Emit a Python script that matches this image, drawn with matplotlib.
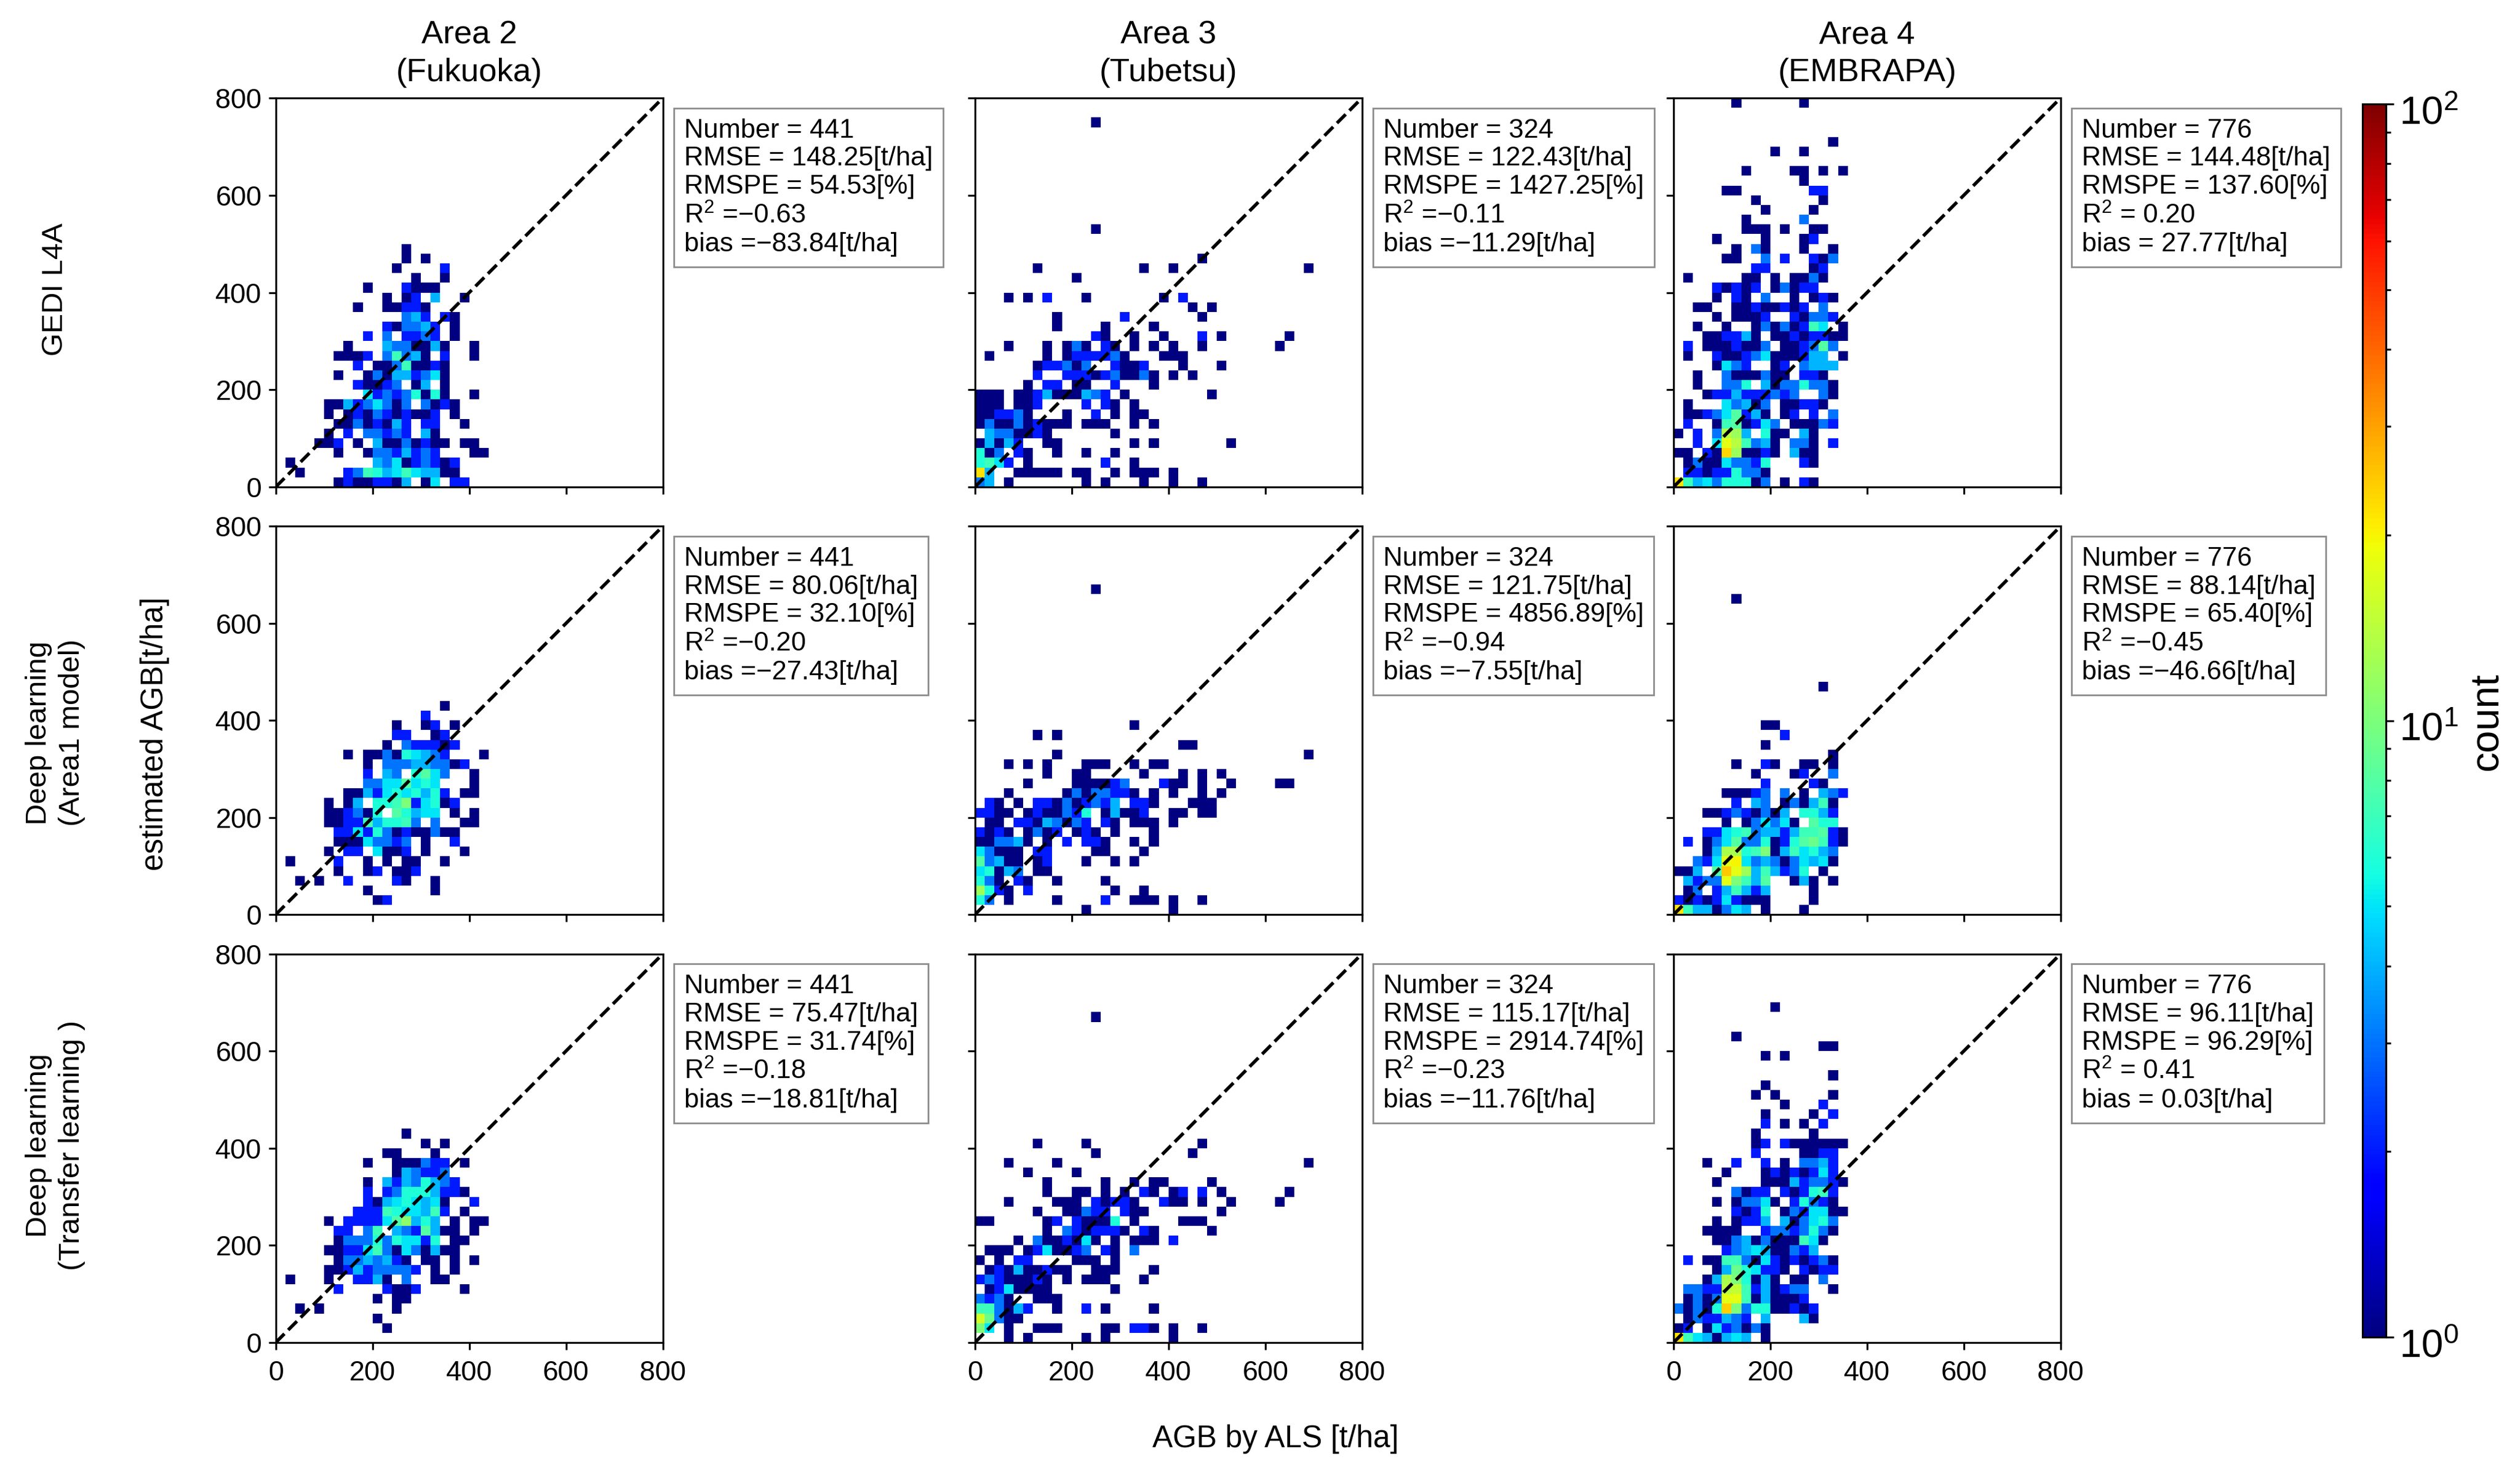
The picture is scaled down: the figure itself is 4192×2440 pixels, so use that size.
import numpy as np
from matplotlib import pyplot as plt
from matplotlib.colors import LogNorm
from matplotlib.transforms import ScaledTranslation

plt.rcParams['font.family'] = ['Liberation Sans', 'DejaVu Sans']
plt.rcParams['mathtext.default'] = 'regular'

# counts per 20 t/ha bin, one string per row from y = 0 upwards,
# one base-36 character per column ('.' = empty)
gedi_fukuoka = [
    "......12112214.15.22", "..1....237645754411", ".1........435123212",
    "......1..13324232...11", "....112.1.41131211.11", ".....1.2.33232.41",
    "......11312142.22..1", ".....1.1213212112.1", ".....114235313.3121",
    ".........523236161..1", "........21123.14.1", "......1..131442351",
    "........2.11371121", "......1112.37341.2..1", ".......1...4331141..1",
    ".........2.3.2232.1", "...........213342.1", ".............342.21",
    "........1..11221", "...........1.12.4..1", ".........1...2111",
    "..............1..1", "............1....2", ".............1.1",
    ".............1",
]
gedi_tubetsu = [
    "34.1.......1.1...1..1..1", "m4..11111.11..1.111.1", "6752.1.......2..1",
    "613.21..1..1..1", "14142..11.......1.1.......1", ".4331121......1",
    "1311312111.111..1.1", "112231...1..2.1.11", "111.112....2.21.1",
    "111.1124111432.1........1", ".....1.22.11..2...1", "......2..2221231131.1.1",
    "......122313..2112...1...1", ".1.....1.1222231...111",
    "...1...1.131.21.1.1.1..1.......1", "............21..1..1...2.1......1",
    "........1....1....1", "........1......2.......1",
    "......................1.1", "...1.1.2...1.......1.2", "",
    "..........1", "......1..........1..1.............1",
    ".......................1", "", "", "............1",
] + [""] * 10 + ["............1"]
gedi_embrapa = [
    "m745366613.1.21", ".221226331", ".131153326...21", "11.21nc1121.411",
    "..2.5ie7341.331.2", "1.2.3ec4.611.41", ".2..1781253.11132",
    ".112358241.12.2.3", ".1...53413.11221", "...1224222323..31",
    "..1..336.41336331", "..1..3111311.221", "....1532..12.3444",
    ".1..211235111244.1", ".2.1112113.112383", "...112241.11212211",
    "..1..1..13131275.1", "....1.1112..21332", "..11..11211212.3",
    "....1.21.3..1.121", "....21212.13122", ".1.....11.1.1131",
    "........22....12", ".....11..3.2..213", "......1.31...1..1",
    "....1....1...12", ".......111.1..11", ".......1.....3",
    ".........1....1", "........1......1", ".....11.......22",
    ".............1", ".......1....11.1.1", "", "..........1..1",
    "................1", "", "", "", "......1......1",
]

dl_fukuoka = [
    "", "..........12", ".........1......1", "..1.1..2....21..1",
    "......1..12.112", ".1....2..1.1.11..1", ".....1.22.5112.1...1",
    "......11153323.1..2", "......2252631211311", ".....1122746673.3..11",
    ".....112316.86455.1.1", ".....1.14.667a25612", ".......11425656462.11",
    ".........33558565...1", ".........2.43.6853..1", ".........1.333443312",
    ".......1.113165432...1", "...........1.322212", "............22..12",
    "............1..12.1", "...............2", ".................1",
]
dl_tubetsu = [
    "...........1........1", "63.1....1....2..111.1..1", "c621.2........1..1",
    "631.21..1....1", "56143.11", "83411.12...1..1.1", "53111.22....11...1",
    "113341.1.2.221..1.1", "2121.1312.121.1...1", ".11.22143132.21.111.1",
    "2211.1211326.14112..11.11", ".21.1.221312324.221...111",
    "...1.....13133221.1.1..1.1", ".....1....111123...211.1..1....11",
    ".......1..11.....1...1.1.1", "...1.1.1...111..1.11",
    "........1.........................1", ".....................11",
    "......1.1", "................1",
] + [""] * 13 + ["............1"]
dl_embrapa = [
    "m7441354.1...1", "2121252111....1", ".13.247424....1", ".4233ia748..141.1",
    "114.8pic474236.1", "..325ik5343135451", "...14dd67a1475643",
    ".2.135833612689721", "...225673442477821", ".....1.135351.866",
    "...112321314.6642", "......2.43.131471", ".....11123.3.1.432",
    ".........2....21", "........1...12..3", "......1..21..11.1",
    "................1", ".........1", "...........2", ".........11",
    "", "", "", "...............1",
] + [""] * 8 + ["......1"]

tl_fukuoka = [
    "", "...........1", "..........1", "..1.1.......1", "..........1.11",
    "......2....2112....1", ".1...1..2241.3..11", ".....1124233332.1.1",
    "......13343421.11.1.1", ".....11225731531411", "......13336365526.11",
    "......22.37.4328411.1", ".....1.222258b464.1.11", "........2227655472.1",
    ".........214565451..2", ".........2.236664221", ".........1.42436432",
    "............143223", ".........1..111322.1", "...........11...1",
    "...............1.1", ".............1",
]
tl_tubetsu = [
    "...1.1.....1.1......1", "a5.1..111....11.221.1..1", "g9311",
    "773142..1..2.1....1", "3231..111", ".1251111......1",
    "23211121.1.111...1", ".121411211..111...1", "1.1.22....111.1",
    ".111.1251123.21.3", "....1.3112151.1.111.2", ".......1.3212221.21.....1",
    "11.....12.21116.1....111", "......1..11322.211.......1",
    "...1....111.21221..211.1..1....1", ".......1..11.1.1.21.12.2.1......1",
    ".......1.....1..1.11....1", ".....1....1",
    "...1....1.........................1", "............1.........1",
    "......1....1...........1",
] + [""] * 12 + ["............1"]
tl_embrapa = [
    "m7541454.1", "12.1523131", ".1322432.4...41", "31316oa36611212",
    ".1313ii7141112", ".3322ef7241233..1", "...14da6141.11.3",
    "....14965221.2122", ".2.11773152121231", ".....2345411324",
    "....113413111751", "...1111..23323631", "....1.1224.413563",
    "......2126.1325511", "....1.13351.26321", "......3122.212672",
    "....1....111423321", ".....1...12121252", "...1..2..2.1.3342",
    "........2....1122", "........12.2111111", "........1.....1",
    ".........2.1.1.2", ".........1....1.2", "...........1...2",
    "........1.1.....1", ".........1", "................1", "",
    ".........1.1", "...............11", "......1", "", "", "..........1",
]

panels = [
    [gedi_fukuoka, gedi_tubetsu, gedi_embrapa],
    [dl_fukuoka, dl_tubetsu, dl_embrapa],
    [tl_fukuoka, tl_tubetsu, tl_embrapa],
]

areas = ["Area 2\n(Fukuoka)", "Area 3\n(Tubetsu)", "Area 4\n(EMBRAPA)"]
methods = ["GEDI L4A", "Deep learning\n(Area1 model)", "Deep learning\n(Transfer learning )"]
bin_edges = np.arange(0, 820, 20)
ticks = [0, 200, 400, 600, 800]

number = [441, 324, 776]
rmse = [[148.25, 122.43, 144.48], [80.06, 121.75, 88.14], [75.47, 115.17, 96.11]]
rmspe = [[54.53, 1427.25, 137.60], [32.10, 4856.89, 65.40], [31.74, 2914.74, 96.29]]
r2 = [[-0.63, -0.11, 0.20], [-0.20, -0.94, -0.45], [-0.18, -0.23, 0.41]]
bias = [[-83.84, -11.29, 27.77], [-27.43, -7.55, -46.66], [-18.81, -11.76, 0.03]]

W, H = 4192, 2440
col_x = [(458.6, 1102.6), (1621.7, 2265.6), (2783.9, 3427.8)]
row_y = [(163, 810), (875.2, 1521.3), (1586.5, 2233)]
lw_spine = 1.15


def decode(rows):
    grid = np.zeros((40, 40))
    for r, s in enumerate(rows):
        for c, ch in enumerate(s):
            if ch != '.':
                grid[r, c] = int(ch, 36)
    return np.ma.masked_equal(grid, 0)


def signed(v):
    return f"=\u2212{abs(v):.2f}" if v < 0 else f"= {v:.2f}"


fig = plt.figure(figsize=(W / 200, H / 200), dpi=200)
norm = LogNorm(vmin=1, vmax=100)
mesh = None

for i in range(3):
    for j in range(3):
        x0, x1 = col_x[j]
        y0, y1 = row_y[i]
        ax = fig.add_axes([x0 / W, 1 - y1 / H, (x1 - x0) / W, (y1 - y0) / H])
        mesh = ax.pcolormesh(bin_edges, bin_edges, decode(panels[i][j]), cmap='jet', norm=norm)
        ax.plot([0, 800], [0, 800], 'k--', lw=2.0)
        ax.set_xlim(0, 800)
        ax.set_ylim(0, 800)
        ax.set_xticks(ticks)
        ax.set_yticks(ticks)
        ax.tick_params(length=4.4, width=lw_spine, labelsize=16.7, pad=4)
        ax.tick_params(axis='x', pad=6)
        ax.tick_params(labelbottom=i == 2, labelleft=j == 0)
        for s in ax.spines.values():
            s.set_linewidth(lw_spine)

        txt = (f"Number = {number[j]}\n"
               f"RMSE = {rmse[i][j]:.2f}[t/ha]\n"
               f"RMSPE = {rmspe[i][j]:.2f}[%]\n"
               f"R$^2$ {signed(r2[i][j])}\n"
               f"bias {signed(bias[i][j])}[t/ha]")
        ax.text(1.055, 0.948, txt, transform=ax.transAxes, va='top', ha='left',
                fontsize=16, linespacing=1.18,
                bbox=dict(boxstyle='square,pad=0.38', fc='white', ec='#8c8c8c', lw=1.0))

        if i == 0:
            ax.text(0.5, 1.027, areas[j], transform=ax.transAxes, ha='center', va='bottom',
                    fontsize=19.5, linespacing=1.3)

for label, y in zip(methods, [481, 1219, 1905]):
    fig.text(92 / W, 1 - y / H, label, rotation=90, ha='center', va='center',
             fontsize=17.7, linespacing=1.26)

fig.text(257 / W, 1 - 1220 / H, "estimated AGB[t/ha]", rotation=90, ha='center', va='center', fontsize=18.4)
fig.text(2122 / W, 1 - 2393 / H, "AGB by ALS [t/ha]", ha='center', va='center', fontsize=18.3)

cax = fig.add_axes([3930 / W, 1 - 2224 / H, 39 / W, (2224 - 173) / H])
cb = fig.colorbar(mesh, cax=cax)
cb.ax.tick_params(which='major', length=4.8, width=lw_spine, labelsize=23.5, pad=3)
cb.ax.tick_params(which='minor', length=2.8, width=lw_spine)
cb.outline.set_linewidth(lw_spine)
# the reference's colourbar labels sit a little below their ticks
for lab in cb.ax.get_yticklabels():
    lab.set_transform(lab.get_transform() + ScaledTranslation(0, -3.6 / 72, fig.dpi_scale_trans))
fig.text(4138 / W, 1 - 1200 / H, "count", rotation=90, ha='center', va='center', fontsize=24)

fig.savefig('out.png', dpi=200, facecolor='white')
